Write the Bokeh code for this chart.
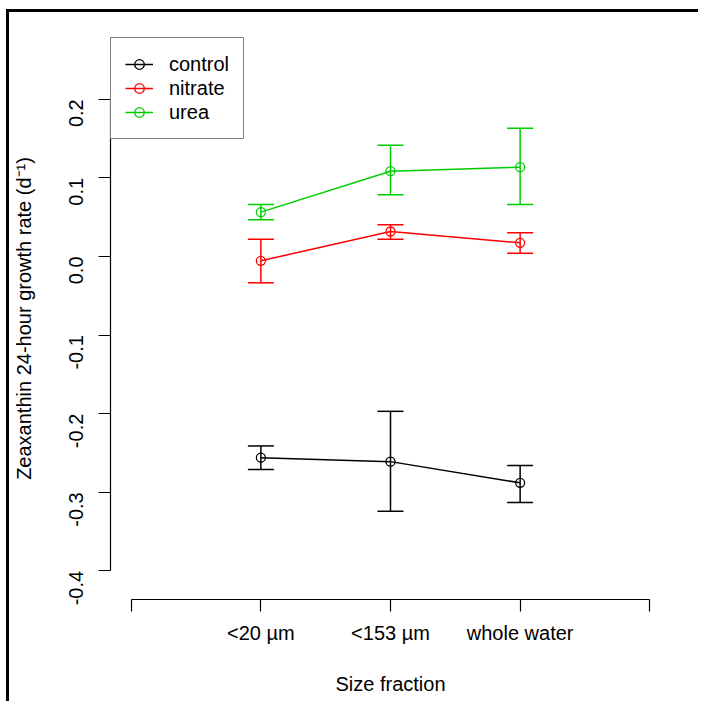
from bokeh.plotting import figure
from bokeh.models import (ColumnDataSource, Whisker, TeeHead, FixedTicker,
                          CustomJSTickFormatter, Range1d, Legend, LegendItem)
from bokeh.embed import file_html
from bokeh.resources import INLINE

# ---- data ----
categories = ["<20 µm", "<153 µm", "whole water"]
x_pos = [1, 2, 3]
x_ticks = [0, 1, 2, 3, 4]
y_ticks = [-0.4, -0.3, -0.2, -0.1, 0.0, 0.1, 0.2]

series_names = ["control", "nitrate", "urea"]
series_colors = ["#000000", "#FF0000", "#00CD00"]

control_mean = [-0.256, -0.261, -0.288]
control_upper = [-0.241, -0.197, -0.266]
control_lower = [-0.271, -0.324, -0.313]

nitrate_mean = [-0.0055, 0.0318, 0.0174]
nitrate_upper = [0.0220, 0.0403, 0.0301]
nitrate_lower = [-0.0335, 0.0220, 0.0042]

urea_mean = [0.0564, 0.1085, 0.1136]
urea_upper = [0.0662, 0.1416, 0.1632]
urea_lower = [0.0467, 0.0785, 0.0662]

means = [control_mean, nitrate_mean, urea_mean]
uppers = [control_upper, nitrate_upper, urea_upper]
lowers = [control_lower, nitrate_lower, urea_lower]

FONT = "Liberation Sans"

p = figure(width=698, height=701, output_backend="svg", toolbar_location=None,
           x_range=Range1d(-0.16, 4.16), y_range=Range1d(-0.4364, 0.2786),
           min_border_left=110, min_border_right=28, min_border_top=37,
           min_border_bottom=102)
p.title.visible = False
p.xgrid.visible = False
p.ygrid.visible = False
p.outline_line_color = None
p.border_fill_color = None
p.background_fill_color = "white"

# frame lines (top and left), as in the reference crop
p.styles = {
    "background-image": "linear-gradient(#000, #000), linear-gradient(#000, #000)",
    "background-size": "calc(100% - 7px) 3px, 3px calc(100% - 9px)",
    "background-position": "7px 9px, 6px 9px",
    "background-repeat": "no-repeat",
    "background-color": "white",
}

# axes
xa = p.xaxis[0]
xa.ticker = FixedTicker(ticks=x_ticks, minor_ticks=[])
xa.formatter = CustomJSTickFormatter(args=dict(labels=categories), code="""
    const i = Math.round(tick) - 1;
    return (i >= 0 && i < labels.length) ? labels[i] : "";
""")
xa.bounds = (x_ticks[0], x_ticks[-1])
xa.axis_label = "Size fraction"

ya = p.yaxis[0]
ya.ticker = FixedTicker(ticks=y_ticks, minor_ticks=[])
ya.formatter = CustomJSTickFormatter(code="return tick.toFixed(1);")
ya.bounds = (y_ticks[0], y_ticks[-1])
ya.axis_label = "Zeaxanthin 24-hour growth rate (d\u207b\u00b9)"
ya.major_label_orientation = 3.14159265 / 2

for ax in (xa, ya):
    ax.axis_line_color = "black"
    ax.axis_line_width = 1.2
    ax.major_tick_line_color = "black"
    ax.major_tick_line_width = 1.2
    ax.major_tick_out = 12
    ax.major_tick_in = 0
    ax.minor_tick_out = 0
    ax.minor_tick_in = 0
    ax.major_label_text_font = FONT
    ax.major_label_text_font_size = "20px"
    ax.major_label_text_color = "black"
    ax.axis_label_text_font = FONT
    ax.axis_label_text_font_size = "20px"
    ax.axis_label_text_font_style = "normal"
    ax.axis_label_text_color = "black"

xa.major_label_standoff = 10
xa.axis_label_standoff = 26
ya.major_label_standoff = 22
ya.axis_label_standoff = 25

items = []
for name, color, m, up, lo in zip(series_names, series_colors, means, uppers, lowers):
    src = ColumnDataSource(dict(x=x_pos, y=m, upper=up, lower=lo))
    w = Whisker(source=src, base="x", upper="upper", lower="lower",
                line_color=color, line_width=1.5,
                upper_head=TeeHead(size=26, line_color=color, line_width=1.5),
                lower_head=TeeHead(size=26, line_color=color, line_width=1.5))
    p.add_layout(w)
    lr = p.line("x", "y", source=src, line_color=color, line_width=1.5)
    sr = p.scatter("x", "y", source=src, marker="circle", size=9,
                   fill_color=None, line_color=color, line_width=1.3)
    items.append(LegendItem(label=name, renderers=[lr, sr]))

legend = Legend(items=items, location="top_left", margin=0, padding=14,
                spacing=0, glyph_width=28, glyph_height=24, label_height=24,
                label_standoff=16, label_text_font=FONT,
                label_text_font_size="20px", label_text_color="black",
                border_line_color="black", border_line_width=1.2,
                background_fill_color="white", background_fill_alpha=1.0)
p.add_layout(legend)

open("out.html", "w").write(file_html(p, INLINE))
